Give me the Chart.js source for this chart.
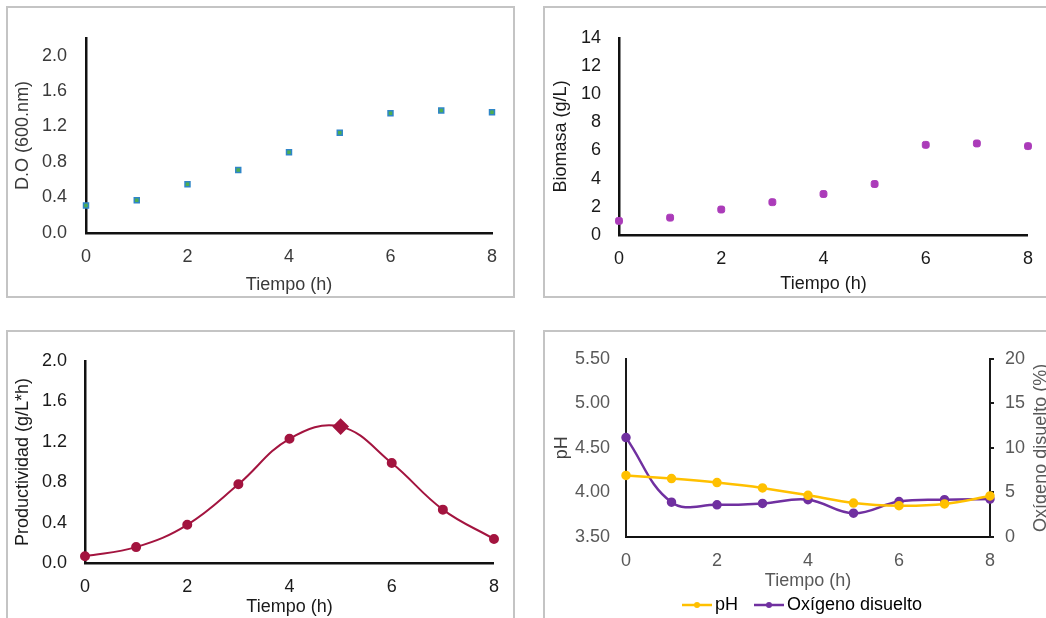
<!DOCTYPE html>
<html>
<head>
<meta charset="utf-8">
<script src="https://cdn.jsdelivr.net/npm/chart.js@4.4.1/dist/chart.umd.min.js"></script>
<style>
  html, body { margin: 0; padding: 0; background: #fff; width: 1046px; height: 618px; overflow: hidden; }
  .marco { position: absolute; box-sizing: border-box; border: 2px solid #c4c4c4; }
  canvas { position: absolute; }
</style>
</head>
<body>
<div class="marco" style="left:6px; top:6px; width:509px; height:292px;"></div>
<div class="marco" style="left:543px; top:6px; width:520px; height:292px;"></div>
<div class="marco" style="left:6px; top:330px; width:509px; height:300px;"></div>
<div class="marco" style="left:543px; top:330px; width:520px; height:300px;"></div>

<canvas id="graficoDO" width="504" height="288" style="left:8px; top:8px;"></canvas>
<canvas id="graficoBiomasa" width="500" height="286" style="left:546px; top:9px;"></canvas>
<canvas id="graficoProductividad" width="504" height="286" style="left:8px; top:332px;"></canvas>
<canvas id="graficoPH" width="500" height="292" style="left:546px; top:332px;"></canvas>

<script>
// Datos
const tiempo = [0, 1, 2, 3, 4, 5, 6, 7, 8];
const densidadOptica = [0.31, 0.37, 0.55, 0.71, 0.91, 1.13, 1.35, 1.38, 1.36];
const biomasa = [1.0, 1.23, 1.81, 2.33, 2.91, 3.62, 6.4, 6.5, 6.31];
const productividad = [0.07, 0.16, 0.38, 0.78, 1.23, 1.35, 0.99, 0.53, 0.24];
const ph = [4.19, 4.155, 4.11, 4.05, 3.967, 3.88, 3.85, 3.87, 3.96];
const oxigeno = [11.15, 3.9, 3.6, 3.76, 4.18, 2.66, 3.97, 4.18, 4.25];
const ticksTiempo = [0, 2, 4, 6, 8];

Chart.defaults.font.family = '"Liberation Sans", Arial, sans-serif';
Chart.defaults.font.size = 18;
Chart.defaults.animation = false;
Chart.defaults.plugins.tooltip.enabled = false;

const puntos = valores => tiempo.map((t, i) => ({ x: t, y: valores[i] }));

// Eje X comun: Tiempo (h)
function ejeTiempo(alto, color, ancho) {
    return {
        type: 'linear', min: 0, max: 8,
        afterFit: s => { s.height = alto; },
        afterBuildTicks: s => { s.ticks = ticksTiempo.map(v => ({ value: v })); },
        grid: { display: false, drawTicks: false },
        border: { display: true, color: '#111', width: ancho },
        ticks: { color: color, padding: 13, maxRotation: 0 },
        title: { display: true, text: 'Tiempo (h)', color: color, padding: { top: 0, bottom: 0 } }
    };
}

function ejeY(ancho, titulo, color, opciones) {
    return Object.assign({
        type: 'linear',
        afterFit: s => { s.width = ancho; },
        grid: { display: false, drawTicks: false },
        border: { display: true, color: '#111', width: 2.5 },
        title: { display: true, text: titulo, color: color, padding: { top: 4, bottom: 4 } }
    }, opciones);
}

// D.O (600 nm)
new Chart(document.getElementById('graficoDO'), {
    type: 'scatter',
    data: {
        datasets: [{
            data: puntos(densidadOptica),
            pointStyle: 'rect',
            pointRadius: 3.5,
            backgroundColor: '#4fae4f',
            borderColor: '#2f86c8',
            borderWidth: 1.5,
            clip: false
        }]
    },
    options: {
        responsive: false,
        layout: { padding: { top: 17, right: 20, left: 0, bottom: 0 } },
        plugins: { legend: { display: false } },
        scales: {
            x: ejeTiempo(63, '#3a3a3a', 2.5),
            y: ejeY(78, 'D.O (600.nm)', '#3a3a3a', {
                min: 0, max: 2.2,
                ticks: { stepSize: 0.4, includeBounds: false, padding: 19, color: '#3a3a3a',
                         callback: v => v.toFixed(1) }
            })
        }
    }
});

// Biomasa (g/L)
new Chart(document.getElementById('graficoBiomasa'), {
    type: 'scatter',
    data: {
        datasets: [{
            data: puntos(biomasa),
            pointStyle: 'rectRounded',
            pointRadius: 4,
            backgroundColor: '#ab3bb9',
            borderColor: '#ab3bb9',
            borderWidth: 1,
            clip: false
        }]
    },
    options: {
        responsive: false,
        layout: { padding: { top: 9.5, right: 6, left: 0, bottom: 0 } },
        plugins: { legend: { display: false } },
        scales: {
            x: ejeTiempo(60, '#1a1a1a', 2.5),
            y: ejeY(73, 'Biomasa (g/L)', '#1a1a1a', {
                min: 0, max: 14,
                ticks: { stepSize: 2, padding: 18, color: '#1a1a1a' }
            })
        }
    }
});

// Productividad (g/L*h)
new Chart(document.getElementById('graficoProductividad'), {
    type: 'line',
    data: {
        datasets: [{
            data: puntos(productividad),
            borderColor: '#a3143f',
            backgroundColor: '#a3143f',
            borderWidth: 2,
            tension: 0.4,
            pointStyle: ['circle', 'circle', 'circle', 'circle', 'circle', 'rectRot', 'circle', 'circle', 'circle'],
            pointRadius: [4, 4, 4, 4, 4, 7, 4, 4, 4],
            clip: false
        }]
    },
    options: {
        responsive: false,
        layout: { padding: { top: 16.3, right: 17.7, left: 0, bottom: 0 } },
        plugins: { legend: { display: false } },
        scales: {
            x: ejeTiempo(54.7, '#1a1a1a', 2.5),
            y: ejeY(77, 'Productividad (g/L*h)', '#1a1a1a', {
                min: 0, max: 2.0,
                ticks: { stepSize: 0.4, padding: 18, color: '#1a1a1a',
                         callback: v => v.toFixed(1) }
            })
        }
    }
});

// pH y oxigeno disuelto
function muestraLeyenda(color) {
    const c = document.createElement('canvas');
    c.width = 48; c.height = 10;
    const g = c.getContext('2d');
    g.strokeStyle = color; g.lineWidth = 2.5;
    g.beginPath(); g.moveTo(18, 5); g.lineTo(48, 5); g.stroke();
    g.fillStyle = color;
    g.beginPath(); g.arc(33, 5, 3, 0, Math.PI * 2); g.fill();
    return c;
}

const tituloDerecho = {
    id: 'tituloDerecho',
    afterDraw(chart) {
        const ctx = chart.ctx;
        const area = chart.chartArea;
        ctx.save();
        ctx.translate(495, (area.top + area.bottom) / 2);
        ctx.rotate(-Math.PI / 2);
        ctx.font = '18px "Liberation Sans", Arial, sans-serif';
        ctx.fillStyle = '#595959';
        ctx.textAlign = 'center';
        ctx.textBaseline = 'middle';
        ctx.fillText('Oxígeno disuelto (%)', 0, 0);
        ctx.restore();
    }
};

const colorPH = '#ffc000';
const colorO2 = '#7030a0';

new Chart(document.getElementById('graficoPH'), {
    type: 'line',
    data: {
        datasets: [{
            label: 'pH',
            data: puntos(ph),
            yAxisID: 'y',
            borderColor: colorPH,
            backgroundColor: colorPH,
            borderWidth: 2.5,
            tension: 0.3,
            pointRadius: 3.5,
            clip: false
        }, {
            label: 'Oxígeno disuelto',
            data: puntos(oxigeno),
            yAxisID: 'y1',
            borderColor: colorO2,
            backgroundColor: colorO2,
            borderWidth: 2.5,
            tension: 0.4,
            pointRadius: 3.5,
            clip: false
        }]
    },
    options: {
        responsive: false,
        layout: { padding: { top: 16.3, right: 0, left: 0, bottom: 0 } },
        plugins: {
            legend: {
                display: true,
                position: 'bottom',
                labels: {
                    usePointStyle: true,
                    pointStyleWidth: 36,
                    padding: 4,
                    color: '#666',
                    font: { size: 18 },
                    generateLabels: chart => chart.data.datasets.map((ds, i) => ({
                        text: ds.label,
                        fillStyle: ds.borderColor,
                        strokeStyle: ds.borderColor,
                        lineWidth: 0,
                        pointStyle: muestraLeyenda(ds.borderColor),
                        hidden: false,
                        datasetIndex: i
                    }))
                }
            }
        },
        scales: {
            x: ejeTiempo(55.1, '#595959', 2),
            y: ejeY(80, 'pH', '#595959', {
                position: 'left',
                min: 3.5, max: 5.5,
                border: { display: true, color: '#1a1a1a', width: 2 },
                title: { display: true, text: 'pH', color: '#404040', padding: { top: 5, bottom: 4 } },
                ticks: { stepSize: 0.5, padding: 16, color: '#595959',
                         callback: v => v.toFixed(2) }
            }),
            y1: {
                type: 'linear',
                position: 'right',
                min: 0, max: 20,
                afterFit: s => { s.width = 56; },
                grid: { display: true, drawOnChartArea: false, drawTicks: true, tickLength: 4,
                        color: '#1a1a1a', lineWidth: 2 },
                border: { display: true, color: '#1a1a1a', width: 2 },
                ticks: { stepSize: 5, padding: 11, color: '#595959' },
                title: { display: false }
            }
        }
    },
    plugins: [tituloDerecho]
});
</script>
</body>
</html>
